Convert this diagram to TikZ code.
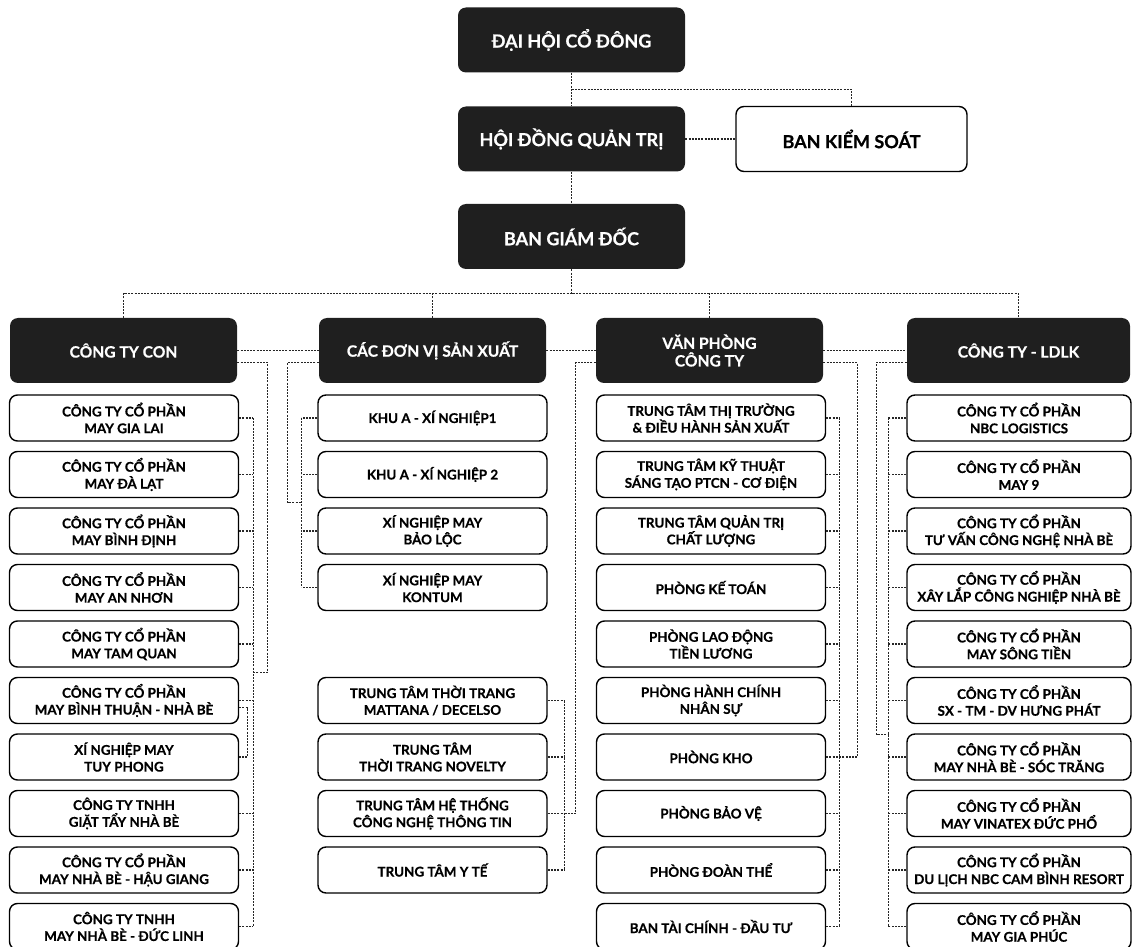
\documentclass[tikz,border=0pt]{standalone}
\usepackage{fontspec}
\setmainfont{Lato}[BoldFeatures={FakeBold=0.5}]
\usetikzlibrary{calc}

\tikzset{
  board/.style={fill=black!88, text=white, rounded corners=4pt, inner sep=0pt,
    minimum width=113.5pt, minimum height=32.5pt, align=center,
    font=\bfseries\fontsize{9}{11}\selectfont},
  head/.style={board, font=\bfseries\fontsize{7.8}{8.8}\selectfont},
  unit/.style={draw, line width=0.7pt, fill=white, rounded corners=4pt, inner sep=0pt,
    minimum width=114.5pt, minimum height=23pt, align=center,
    font=\bfseries\fontsize{6.7}{8.4}\selectfont},
  link/.style={line width=0.65pt, black!85, dash pattern=on 1pt off 0.6pt}
}

\begin{document}
\begin{tikzpicture}[x=0.5pt,y=-0.5pt]
    \useasboundingbox (0,0) rectangle (1132,947);

    % top of the chart
    \node[board] (dhcd) at (571.5,40) {ĐẠI HỘI CỔ ĐÔNG};
    \node[board] (hdqt) at (571.5,139) {HỘI ĐỒNG QUẢN TRỊ};
    \node[board] (bgd) at (571.5,236.5) {BAN GIÁM ĐỐC};
    \node[unit, minimum width=115.5pt, minimum height=32.5pt,
      font=\bfseries\fontsize{9}{11}\selectfont] (bks) at (851.5,139) {BAN KIỂM SOÁT};

    % four columns
    \node[head] (con) at (123.5,350.5) {CÔNG TY CON};
    \node[head] (sx) at (432.5,350.5) {CÁC ĐƠN VỊ SẢN XUẤT};
    \node[head] (vp) at (709.5,350.5) {VĂN PHÒNG\\CÔNG TY};
    \node[head, minimum width=111.5pt] (ldlk) at (1018.5,350.5) {CÔNG TY - LDLK};

    \node[unit] (con1) at (124,418) {CÔNG TY CỔ PHẦN\\MAY GIA LAI};
    \node[unit] (con2) at (124,474.5) {CÔNG TY CỔ PHẦN\\MAY ĐÀ LẠT};
    \node[unit] (con3) at (124,531) {CÔNG TY CỔ PHẦN\\MAY BÌNH ĐỊNH};
    \node[unit] (con4) at (124,587.5) {CÔNG TY CỔ PHẦN\\MAY AN NHƠN};
    \node[unit] (con5) at (124,644) {CÔNG TY CỔ PHẦN\\MAY TAM QUAN};
    \node[unit] (con6) at (124,700.5) {CÔNG TY CỔ PHẦN\\MAY BÌNH THUẬN - NHÀ BÈ};
    \node[unit] (con7) at (124,757) {XÍ NGHIỆP MAY\\TUY PHONG};
    \node[unit] (con8) at (124,813.5) {CÔNG TY TNHH\\GIẶT TẨY NHÀ BÈ};
    \node[unit] (con9) at (124,870) {CÔNG TY CỔ PHẦN\\MAY NHÀ BÈ - HẬU GIANG};
    \node[unit] (con10) at (124,926.5) {CÔNG TY TNHH\\MAY NHÀ BÈ - ĐỨC LINH};

    \node[unit] (sx1) at (432.5,418) {KHU A - XÍ NGHIỆP1};
    \node[unit] (sx2) at (432.5,474.5) {KHU A - XÍ NGHIỆP 2};
    \node[unit] (sx3) at (432.5,531) {XÍ NGHIỆP MAY\\BẢO LỘC};
    \node[unit] (sx4) at (432.5,587.5) {XÍ NGHIỆP MAY\\KONTUM};

    \node[unit] (tt1) at (432.5,700.5) {TRUNG TÂM THỜI TRANG\\MATTANA / DECELSO};
    \node[unit] (tt2) at (432.5,757) {TRUNG TÂM\\THỜI TRANG NOVELTY};
    \node[unit] (tt3) at (432.5,813.5) {TRUNG TÂM HỆ THỐNG\\CÔNG NGHỆ THÔNG TIN};
    \node[unit] (tt4) at (432.5,870) {TRUNG TÂM Y TẾ};

    \node[unit] (vp1) at (711,418) {TRUNG TÂM THỊ TRƯỜNG\\\& ĐIỀU HÀNH SẢN XUẤT};
    \node[unit] (vp2) at (711,474.5) {TRUNG TÂM KỸ THUẬT\\SÁNG TẠO PTCN - CƠ ĐIỆN};
    \node[unit] (vp3) at (711,531) {TRUNG TÂM QUẢN TRỊ\\CHẤT LƯỢNG};
    \node[unit] (vp4) at (711,587.5) {PHÒNG KẾ TOÁN};
    \node[unit] (vp5) at (711,644) {PHÒNG LAO ĐỘNG\\TIỀN LƯƠNG};
    \node[unit] (vp6) at (711,700.5) {PHÒNG HÀNH CHÍNH\\NHÂN SỰ};
    \node[unit] (vp7) at (711,757) {PHÒNG KHO};
    \node[unit] (vp8) at (711,813.5) {PHÒNG BẢO VỆ};
    \node[unit] (vp9) at (711,870) {PHÒNG ĐOÀN THỂ};
    \node[unit] (vp10) at (711,926.5) {BAN TÀI CHÍNH - ĐẦU TƯ};

    \node[unit, minimum width=112pt] (lk1) at (1019,418) {CÔNG TY CỔ PHẦN\\NBC LOGISTICS};
    \node[unit, minimum width=112pt] (lk2) at (1019,474.5) {CÔNG TY CỔ PHẦN\\MAY 9};
    \node[unit, minimum width=112pt] (lk3) at (1019,531) {CÔNG TY CỔ PHẦN\\TƯ VẤN CÔNG NGHỆ NHÀ BÈ};
    \node[unit, minimum width=112pt] (lk4) at (1019,587.5) {CÔNG TY CỔ PHẦN\\XÂY LẮP CÔNG NGHIỆP NHÀ BÈ};
    \node[unit, minimum width=112pt] (lk5) at (1019,644) {CÔNG TY CỔ PHẦN\\MAY SÔNG TIỀN};
    \node[unit, minimum width=112pt] (lk6) at (1019,700.5) {CÔNG TY CỔ PHẦN\\SX - TM - DV HƯNG PHÁT};
    \node[unit, minimum width=112pt] (lk7) at (1019,757) {CÔNG TY CỔ PHẦN\\MAY NHÀ BÈ - SÓC TRĂNG};
    \node[unit, minimum width=112pt] (lk8) at (1019,813.5) {CÔNG TY CỔ PHẦN\\MAY VINATEX ĐỨC PHỔ};
    \node[unit, minimum width=112pt] (lk9) at (1019,870) {CÔNG TY CỔ PHẦN\\DU LỊCH NBC CAM BÌNH RESORT};
    \node[unit, minimum width=112pt] (lk10) at (1019,926.5) {CÔNG TY CỔ PHẦN\\MAY GIA PHÚC};

    % links at the top
    \coordinate (fork) at ($ (dhcd.south)!0.5!(hdqt.north) $);
    \coordinate (bus) at ($ (bgd.south)!0.5!(bgd.south |- con.north) $);
    \draw[link] (dhcd) -- (hdqt) (fork) -| (bks.north) (hdqt) -- (bks) (hdqt) -- (bgd);
    \draw[link] (bgd.south) -- (bus);
    \draw[link] (con.north) |- (bus) -| (ldlk.north);
    \draw[link] (sx.north) -- (sx.north |- bus) (vp.north) -- (vp.north |- bus);
    \draw[link] (con) -- (sx) (sx) -- (vp) (vp) -- (ldlk);

    % công ty con
    \draw[link] ($ (con.east) + (0,12) $) -- ++(30,0) |- ($ (con5.east)!0.5!(con6.east) + (14,0) $);
    \draw[link] ($ (con1.east) + (14,0) $) -- ($ (con10.east) + (14,0) $);
    \draw[link] (con1.east) -- ++(14,0) (con2.east) -- ++(14,0) (con3.east) -- ++(14,0)
      (con4.east) -- ++(14,0) (con5.east) -- ++(14,0) (con6.east) -- ++(14,0)
      (con8.east) -- ++(14,0) (con9.east) -- ++(14,0) (con10.east) -- ++(14,0);
    \draw[link] ($ (con6.east) + (0,7) $) -- ++(8,0) |- (con7.east);

    % đơn vị sản xuất
    \draw[link] ($ (sx.west) + (0,12) $) -- ++(-31,0) |- ($ (sx2.west)!0.5!(sx3.west) + (-16,0) $);
    \draw[link] ($ (sx1.west) + (-16,0) $) -- ($ (sx4.west) + (-16,0) $);
    \draw[link] (sx1.west) -- ++(-16,0) (sx2.west) -- ++(-16,0) (sx3.west) -- ++(-16,0)
      (sx4.west) -- ++(-16,0);

    % trung tâm, under văn phòng
    \draw[link] ($ (vp.west) + (0,12) $) -- ++(-20,0) |- ($ (tt3.east) + (17,0) $);
    \draw[link] ($ (tt1.east) + (17,0) $) -- ($ (tt4.east) + (17,0) $);
    \draw[link] (tt1.east) -- ++(17,0) (tt2.east) -- ++(17,0) (tt3.east) -- ++(17,0)
      (tt4.east) -- ++(17,0);

    % văn phòng
    \draw[link] ($ (vp.east) + (0,12) $) -- ++(34,0) |- ($ (vp7.east) + (13,0) $);
    \draw[link] ($ (vp1.east) + (13,0) $) -- ($ (vp10.east) + (13,0) $);
    \draw[link] (vp1.east) -- ++(13,0) (vp2.east) -- ++(13,0) (vp3.east) -- ++(13,0)
      (vp4.east) -- ++(13,0) (vp5.east) -- ++(13,0) (vp6.east) -- ++(13,0)
      (vp7.east) -- ++(13,0) (vp8.east) -- ++(13,0) (vp9.east) -- ++(13,0)
      (vp10.east) -- ++(13,0);

    % liên doanh liên kết
    \draw[link] ($ (ldlk.west) + (0,12) $) -- ++(-30,0) |- ($ (lk6.west)!0.6!(lk7.west) + (-18,0) $);
    \draw[link] ($ (lk1.west) + (-18,0) $) -- ($ (lk10.west) + (-18,0) $);
    \draw[link] (lk1.west) -- ++(-18,0) (lk2.west) -- ++(-18,0) (lk3.west) -- ++(-18,0)
      (lk4.west) -- ++(-18,0) (lk5.west) -- ++(-18,0) (lk6.west) -- ++(-18,0)
      (lk7.west) -- ++(-18,0) (lk8.west) -- ++(-18,0) (lk9.west) -- ++(-18,0)
      (lk10.west) -- ++(-18,0);

\end{tikzpicture}
\end{document}
